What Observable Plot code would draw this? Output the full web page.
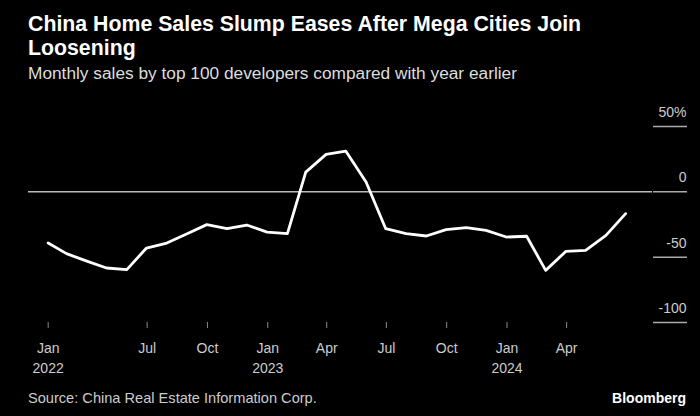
<!DOCTYPE html>
<html><head><meta charset="utf-8">
<script src="https://cdn.jsdelivr.net/npm/d3@7"></script>
<script src="https://cdn.jsdelivr.net/npm/@observablehq/plot@0.6"></script>
<style>
html,body{margin:0;padding:0;background:#000;width:700px;height:416px;overflow:hidden;font-family:"Liberation Sans",Arial,sans-serif;}
#title{position:absolute;left:28px;top:12px;color:#fff;font-weight:bold;font-size:21.3px;line-height:24px;white-space:nowrap;}
#subtitle{position:absolute;left:28px;top:63px;color:#ddd;font-size:17.3px;line-height:20px;white-space:nowrap;}
#chart{position:absolute;left:0;top:83px;}
#source{position:absolute;left:28px;top:389px;color:#ccc;font-size:14.6px;line-height:18px;white-space:nowrap;}
#brand{position:absolute;right:14px;top:389px;color:#fff;font-weight:bold;font-size:14px;line-height:18px;}
</style></head><body>
<div id="title">China Home Sales Slump Eases After Mega Cities Join<br>Loosening</div>
<div id="subtitle">Monthly sales by top 100 developers compared with year earlier</div>
<div id="chart"></div>
<div id="source">Source: China Real Estate Information Corp.</div>
<div id="brand">Bloomberg</div>
<script>
// Month of each observation (plotted at month end)
const months = ["2022-01","2022-02","2022-03","2022-04","2022-05","2022-06","2022-07","2022-08","2022-09","2022-10","2022-11","2022-12",
                "2023-01","2023-02","2023-03","2023-04","2023-05","2023-06","2023-07","2023-08","2023-09","2023-10","2023-11","2023-12",
                "2024-01","2024-02","2024-03","2024-04","2024-05","2024-06"];
// Year-on-year change in monthly sales, %
const values = [-39.2,-47.3,-53.0,-58.3,-59.5,-43.0,-39.2,-32.0,-25.1,-28.2,-25.4,-30.8,
                -32.0,15.1,28.7,31.2,7.5,-28.2,-32.0,-33.8,-28.9,-27.4,-29.5,-34.6,
                -34.0,-60.1,-45.5,-44.8,-33.3,-16.7];
// Axis ticks
const xTickDates = ["2022-01-31","2022-07-01","2022-10-01","2023-01-01","2023-04-01","2023-07-01","2023-10-01","2024-01-01","2024-04-01"];
const xTickLabels = ["Jan\n2022","Jul","Oct","Jan\n2023","Apr","Jul","Oct","Jan\n2024","Apr"];
const yTicks = [50, 0, -50, -100];
const yTickLabels = ["50%", "0", "-50", "-100"];

const parseDay = d3.utcParse("%Y-%m-%d");
const parseMonth = d3.utcParse("%Y-%m");
const monthEnd = m => d3.utcDay.offset(d3.utcMonth.offset(parseMonth(m), 1), -1);
const data = months.map((m, i) => ({date: monthEnd(m), value: values[i]}));
const xTicks = xTickDates.map(parseDay);
const xLabelMap = new Map(xTicks.map((d, i) => [+d, xTickLabels[i]]));
const yLabelMap = new Map(yTicks.map((d, i) => [d, yTickLabels[i]]));

const font = '"Liberation Sans", Arial, sans-serif';
const chart = Plot.plot({
  width: 700, height: 300,
  marginLeft: 28, marginRight: 48, marginTop: 43, marginBottom: 61,
  style: {background: "#000", color: "#ccc", fontFamily: font, fontSize: "14px"},
  x: {type: "utc", domain: [parseDay("2022-01-01"), parseDay("2024-08-10")]},
  y: {domain: [-100, 50]},
  marks: [
    Plot.ruleY([0], {stroke: "#bbb", strokeWidth: 1.5}),
    Plot.axisY(yTicks, {anchor: "right", tickSize: 34, tickFormat: () => "", stroke: "#aaa", strokeWidth: 1.5, label: null}),
    Plot.text(yTicks, {y: d => d, text: d => yLabelMap.get(d), frameAnchor: "right", textAnchor: "end", dx: 34, dy: -14, fill: "#ccc", fontSize: 14}),
    Plot.axisX(xTicks, {anchor: "bottom", tickSize: 6, tickPadding: 10, stroke: "#888", fill: "#ccc", fontSize: 14, lineHeight: 1.43,
      tickFormat: d => xLabelMap.get(+d), label: null}),
    Plot.line(data, {x: "date", y: "value", stroke: "#fff", strokeWidth: 2.8, strokeLinejoin: "round"})
  ]
});
document.getElementById("chart").appendChild(chart);
</script>
</body></html>
